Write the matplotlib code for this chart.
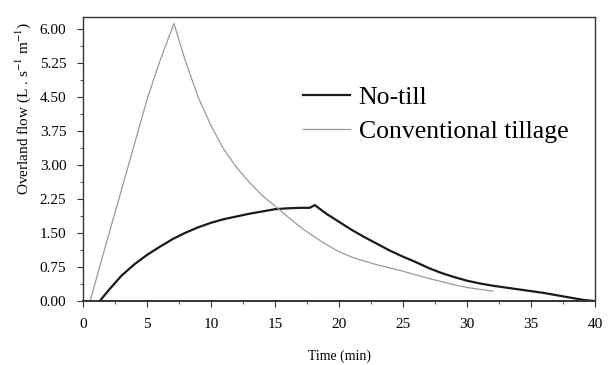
import matplotlib

matplotlib.use('Agg')

import matplotlib.pyplot as plt
from matplotlib.ticker import MultipleLocator

plt.rcParams['font.family'] = ['Liberation Serif', 'DejaVu Serif']
plt.rcParams['mathtext.fontset'] = 'stix'

# No-till (black line)
notill_t = [1.3, 2, 3, 4, 5, 6, 7, 8, 9, 10, 11, 12, 13, 14, 15, 16, 17, 17.7, 18.1,
            19, 20, 21, 22, 23, 24, 25, 26, 27, 28, 29, 30, 31, 32, 33, 34, 35, 36, 37, 38, 39, 40]
notill_q = [0, 0.24, 0.56, 0.81, 1.02, 1.2, 1.37, 1.51, 1.63, 1.73, 1.81, 1.87, 1.93, 1.98, 2.03, 2.05, 2.06, 2.06, 2.12,
            1.93, 1.75, 1.57, 1.41, 1.26, 1.11, 0.98, 0.86, 0.73, 0.62, 0.53, 0.45, 0.39, 0.34, 0.30, 0.26, 0.22, 0.18, 0.13, 0.08, 0.03, 0]

# Conventional tillage (grey line)
conv_t = [0.55, 1, 2, 3, 4, 5, 6, 7.1, 8, 9, 10, 11, 12, 13, 14, 15, 16, 17, 18,
          19, 20, 21, 22, 23, 24, 25, 26, 27, 28, 29, 30, 31, 32]
conv_q = [0, 0.45, 1.46, 2.45, 3.45, 4.45, 5.3, 6.13, 5.3, 4.5, 3.87, 3.35, 2.95, 2.62, 2.33, 2.10, 1.86, 1.63, 1.43,
          1.25, 1.09, 0.97, 0.88, 0.80, 0.73, 0.66, 0.58, 0.50, 0.43, 0.36, 0.30, 0.26, 0.22]

x_ticks = [0, 5, 10, 15, 20, 25, 30, 35, 40]
y_ticks = [0, 0.75, 1.5, 2.25, 3.0, 3.75, 4.5, 5.25, 6.0]


def main():
    fig = plt.figure(figsize=(6.12, 3.65), dpi=100)
    ax = fig.add_axes([0.1356, 0.175, 0.837, 0.778])

    ax.plot(notill_t, notill_q, color='#1a1a1a', lw=1.6, label='No-till')
    ax.plot(conv_t, conv_q, color='#9a9a9a', lw=0.9, label='Conventional tillage')

    ax.set_xlim(0, 40)
    ax.set_ylim(0, 6.27)
    ax.set_xticks(x_ticks)
    ax.set_yticks(y_ticks)
    ax.set_yticklabels(['%.2f' % v for v in y_ticks])
    ax.xaxis.set_minor_locator(MultipleLocator(2.5))
    ax.yaxis.set_minor_locator(MultipleLocator(0.375))
    ax.tick_params(which='both', direction='out', labelsize=11, color='#333333')
    ax.tick_params(which='major', length=4)
    ax.tick_params(which='minor', length=2.5)
    ax.tick_params(axis='x', pad=8)
    ax.tick_params(axis='y', pad=8)

    for s in ax.spines.values():
        s.set_color('#333333')
        s.set_linewidth(1.0)
    ax.spines['bottom'].set_linewidth(1.4)

    ax.set_xlabel('Time (min)', fontsize=10)
    ax.xaxis.set_label_coords(0.5, -0.172)
    ax.set_ylabel(r'Overland flow (L . s$^{-1}$ m$^{-1}$)', fontsize=11)
    ax.yaxis.set_label_coords(-0.098, 0.68)

    ax.legend(loc='upper left', bbox_to_anchor=(0.385, 0.84), frameon=False,
              fontsize=18.5, handlelength=1.8, handletextpad=0.35, labelspacing=0.45)

    fig.savefig('out.png', dpi=100)


if __name__ == '__main__':
    main()
